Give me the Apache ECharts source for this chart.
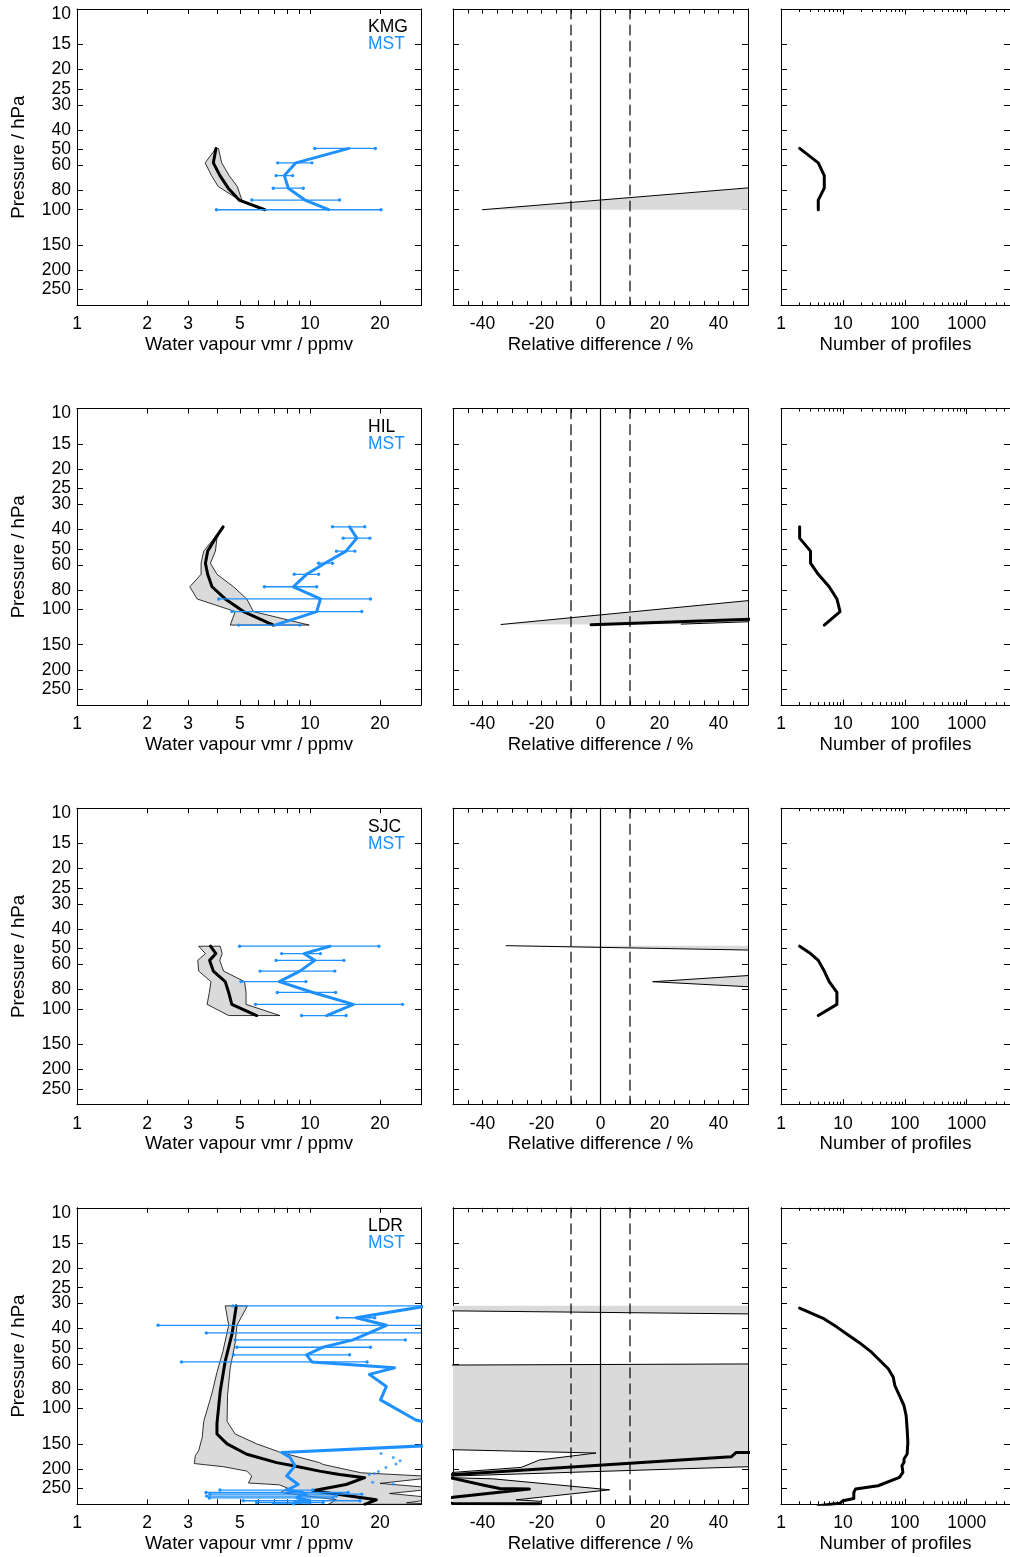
<!DOCTYPE html>
<html>
<head>
<meta charset="utf-8">
<script src="https://cdn.jsdelivr.net/npm/echarts@6/dist/echarts.min.js"></script>
<style>
  html, body { margin: 0; padding: 0; background: #ffffff; }
  #chart { width: 1010px; height: 1557px; }
</style>
</head>
<body>
<div id="chart"></div>
<script>
// ---------- axis ticks and labels ----------
const pressureTicks = [10, 15, 20, 25, 30, 40, 50, 60, 80, 100, 150, 200, 250];
const vmrLabels = [1, 2, 3, 5, 10, 20];
const vmrTicks = [1, 2, 3, 4, 5, 6, 7, 8, 9, 10, 20, 30];
const relLabels = [-40, -20, 0, 20, 40];
const relTicks = [-50, -45, -40, -35, -30, -25, -20, -15, -10, -5, 0, 5, 10, 15, 20, 25, 30, 35, 40, 45, 50];
const countLabels = [1, 10, 100, 1000];
const countMinorTicks = [2, 3, 4, 5, 6, 7, 8, 9, 20, 30, 40, 50, 60, 70, 80, 90,
  200, 300, 400, 500, 600, 700, 800, 900, 2000, 3000, 4000, 5000];
const relRefLines = [-10, 0, 10];

const stations = ['KMG', 'HIL', 'SJC', 'LDR'];
const satName = 'MST';

// ---------- KMG ----------
const kmgP = [49.5, 58.4, 67.6, 78.1, 89.5, 100];
const kmgSonde = [3.95, 3.85, 4.11, 4.46, 4.97, 6.41];
const kmgBandP = [49.5, 58.4, 67.6, 76.6, 89.3];
const kmgBandLo = [3.95, 3.55, 3.78, 4.04, 4.97];
const kmgBandHi = [4.05, 4.18, 4.50, 4.88, 5.10];
const kmgMst = [14.7, 8.71, 7.77, 8.08, 9.52, 12.05];
const kmgMstLo = [10.5, 7.27, 7.16, 6.96, 5.63, 3.97];
const kmgMstHi = [19.1, 10.2, 8.43, 9.36, 13.4, 20.2];
const kmgCount = [2, 4, 5, 5, 4, 4];
const kmgRelBands = [[[-40, 100], [60, 75.7], [60, 100]]];
const kmgRelEdges = [[[-40, 100], [60, 75.7]]];
const kmgRelMean = [];

// ---------- HIL ----------
const hilP = [38.8, 44.2, 51.3, 58.9, 66.9, 77.2, 88.8, 102.6, 119.8];
const hilSonde = [4.24, 3.93, 3.64, 3.56, 3.64, 3.80, 4.33, 5.19, 6.97];
const hilBandLo = [4.24, 3.88, 3.50, 3.41, 3.41, 3.05, 3.28, 4.78, 4.55];
const hilBandHi = [4.24, 3.99, 3.93, 3.74, 3.99, 4.70, 5.36, 5.72, 9.93];
const hilMst = [14.8, 15.9, 14.3, 11.6, 9.68, 8.49, 11.1, 10.7, 7.08];
const hilMstLo = [12.5, 13.9, 13.0, 10.9, 8.57, 6.38, 4.06, 4.63, 4.94];
const hilMstHi = [17.2, 18.1, 15.6, 12.5, 10.9, 10.7, 18.2, 16.7, 9.06];
const hilCount = [2, 2, 3, 3, 4, 6, 8, 9, 5];
const hilRelBands = [[[-33.7, 119], [60, 87.6], [60, 114], [27.4, 118.5]]];
const hilRelEdges = [[[-33.7, 119], [60, 87.6]], [[27.4, 118.5], [60, 114]]];
const hilRelMean = [[-3.2, 119.4], [60, 110.8]];

// ---------- SJC ----------
const sjcP = [48.7, 53.0, 57.3, 64.8, 73.1, 82.8, 94.9, 107.9];
const sjcSonde = [3.74, 3.95, 3.71, 3.85, 4.33, 4.48, 4.62, 5.91];
const sjcBandLo = [3.33, 3.56, 3.30, 3.33, 3.76, 3.70, 3.62, 4.48];
const sjcBandHi = [4.12, 4.20, 4.10, 4.26, 5.24, 5.32, 5.32, 7.43];
const sjcMst = [12.2, 9.43, 10.5, 9.06, 7.39, 10.3, 15.4, 11.8];
const sjcMstLo = [4.99, 7.57, 7.16, 6.11, 5.06, 7.25, 5.84, 9.21];
const sjcMstHi = [19.8, 11.1, 14.0, 12.8, 9.61, 12.9, 25.0, 14.3];
const sjcCount = [2, 3, 4, 5, 6, 8, 8, 4];
const sjcRelBands = [
  [[-32, 48.4], [60, 51.2], [60, 48.4]],
  [[17.7, 73.2], [60, 66.7], [60, 78.9]]
];
const sjcRelEdges = [[[-32, 48.4], [60, 51.2]], [[60, 66.7], [17.7, 73.2], [60, 78.9]]];
const sjcRelMean = [];

// ---------- LDR ----------
const ldrSondeP = [30.8, 42.5, 58, 82.2, 119, 134, 150, 169, 186, 193, 205, 213, 221, 239, 257, 285, 300];
const ldrSonde = [4.83, 4.63, 4.33, 4.12, 3.99, 3.99, 4.41, 5.36, 7.20, 8.49, 11.0, 13.4, 17.2, 14.3, 10.3, 19.3, 17.2];
const ldrBandLoP = [30.8, 38.5, 52, 66, 83.7, 116, 139, 162, 172, 188, 195, 205, 217, 235, 240, 249, 262, 285, 300];
const ldrBandLo = [4.33, 4.48, 4.23, 3.99, 3.80, 3.50, 3.45, 3.33, 3.22, 3.19, 4.26, 5.36, 5.63, 5.45, 7.4, 8.0, 7.5, 13.0, 12.0];
const ldrBandHiP = [30.8, 38.5, 47, 62.7, 86, 116, 134, 150, 165, 186, 190, 209, 219, 236, 250, 265, 280, 295, 300];
const ldrBandHi = [5.39, 4.86, 4.78, 4.55, 4.43, 4.41, 4.78, 5.91, 7.43, 11.0, 11.4, 16.6, 36, 20, 36, 22, 36, 26, 36];
const ldrMstP = [30.8, 35.3, 38.5, 42.0, 45.5, 49.5, 54.0, 58.6, 62.7, 67.6, 77.6, 90.6, 114, 125, 148,
  165.5, 175.5, 193, 217, 239, 254.7, 262, 267, 273, 279, 288, 294, 299];
const ldrMst = [32, 15.8, 21.3, 18.0, 15.3, 11.4, 9.68, 10.2, 23.1, 18.0, 21.3, 20.1, 28.5, 40, 60,
  7.57, 8.22, 8.63, 7.95, 8.91, 7.95, 9.3, 9.6, 9.0, 8.8, 10.0, 8.6, 8.5];
const ldrErrP = [30.8, 35.3, 38.5, 42.0, 45.5, 49.5, 54.0, 58.6, 254.7, 262, 267, 273, 279, 288, 294, 299];
const ldrErrLo = [4.67, 13.1, 2.23, 3.59, 4.78, 4.86, 4.70, 2.81, 4.11, 3.58, 3.72, 3.60, 3.70, 5.17, 5.90, 6.97];
const ldrErrHi = [40, 19.0, 40, 40, 25.7, 18.2, 14.8, 17.6, 10.3, 14.6, 16.7, 13.0, 12.6, 16.4, 11.4, 10.0];
const ldrDotP = [167.3, 175.2, 182, 189, 196.5, 205.8, 210.6, 213, 233, 238];
const ldrDot = [20.2, 22.8, 24.4, 23.4, 21.2, 19.7, 18.9, 18.0, 18.6, 22.8];
const ldrCountP = [31.6, 35.8, 39.3, 42.9, 46.7, 52.4, 63.4, 69.8, 76.8, 86.2, 96.8, 108.5, 126.4, 147.4,
  168.4, 178.3, 185.4, 192.6, 208, 220.4, 242.5, 252, 261.8, 280.5, 288, 296, 305];
const ldrCount = [2, 5, 8, 12, 18, 29, 54, 65, 69, 82, 97, 105, 109, 112,
  109, 97, 97, 90, 93, 82, 37, 16, 15, 15, 10, 9, 4];
const ldrRelBands = [
  [[-60, 30.8], [60, 30.8], [60, 33.9], [-60, 32.5]],
  [[-60, 60.8], [60, 59.9], [60, 192.9], [-60, 219.3], [-36.5, 224], [3.1, 254], [-28.6, 285],
   [-20.1, 290], [-20.1, 300], [-60, 300], [-60, 213.3], [-26.9, 196.5], [-20.7, 180.5],
   [-1.5, 166.6], [-60, 159.1]]
];
const ldrRelEdges = [
  [[-60, 32.5], [60, 33.9]],
  [[-60, 60.8], [60, 59.9]],
  [[-60, 159.1], [-1.5, 166.6], [-20.7, 180.5], [-26.9, 196.5], [-60, 213.3]],
  [[60, 192.9], [-60, 219.3]],
  [[-60, 219.3], [-36.5, 224], [3.1, 254], [-28.6, 285], [-20.1, 290], [-20.1, 300]]
];
const ldrRelMean = [[60, 165.5], [46, 165.5], [44.3, 174], [10, 187.5], [-56, 216.3], [-50, 222.8],
  [-39.9, 240.5], [-34.2, 250], [-24.1, 252], [-50, 277], [-56, 287], [-50, 297], [-20.7, 298]];

// ---------- assemble per-station records ----------
const zip = (xs, ps) => xs.map((x, i) => [x, ps[i]]);
const rows = [
  { name: stations[0], sonde: zip(kmgSonde, kmgP),
    band: zip(kmgBandLo, kmgBandP).concat(zip(kmgBandHi, kmgBandP).reverse()),
    mst: zip(kmgMst, kmgP), err: kmgP.map((p, i) => [kmgMstLo[i], kmgMstHi[i], p]), dots: [],
    relBands: kmgRelBands, relEdges: kmgRelEdges, relMean: kmgRelMean, count: zip(kmgCount, kmgP) },
  { name: stations[1], sonde: zip(hilSonde, hilP),
    band: zip(hilBandLo, hilP).concat(zip(hilBandHi, hilP).reverse()),
    mst: zip(hilMst, hilP), err: hilP.map((p, i) => [hilMstLo[i], hilMstHi[i], p]), dots: [],
    relBands: hilRelBands, relEdges: hilRelEdges, relMean: hilRelMean, count: zip(hilCount, hilP) },
  { name: stations[2], sonde: zip(sjcSonde, sjcP),
    band: zip(sjcBandLo, sjcP).concat(zip(sjcBandHi, sjcP).reverse()),
    mst: zip(sjcMst, sjcP), err: sjcP.map((p, i) => [sjcMstLo[i], sjcMstHi[i], p]), dots: [],
    relBands: sjcRelBands, relEdges: sjcRelEdges, relMean: sjcRelMean, count: zip(sjcCount, sjcP) },
  { name: stations[3], sonde: zip(ldrSonde, ldrSondeP),
    band: zip(ldrBandLo, ldrBandLoP).concat(zip(ldrBandHi, ldrBandHiP).reverse()),
    mst: zip(ldrMst, ldrMstP), err: ldrErrP.map((p, i) => [ldrErrLo[i], ldrErrHi[i], p]),
    dots: zip(ldrDot, ldrDotP),
    relBands: ldrRelBands, relEdges: ldrRelEdges, relMean: ldrRelMean, count: zip(ldrCount, ldrCountP) }
];

// ---------- layout & style ----------
const FONT = '"Liberation Sans", Arial, Helvetica, sans-serif';
const FS = 17.5;      // tick labels and station names
const FS_NAME = 18.6; // axis titles
const BLUE = '#1e90ff';
const GRAY = '#dadada';
const ROW_TOP = [9, 408.6, 808.2, 1207.8];
const PANEL_H = 296.5;
const COLS = [
  { left: 77, width: 344 },
  { left: 453, width: 295 },
  { left: 781, width: 233 }
];
const XCFG = [
  { type: 'log', min: 1, max: 30, ticks: vmrTicks, labels: vmrLabels, len: 5, name: 'Water vapour vmr / ppmv' },
  { type: 'value', min: -50, max: 50, ticks: relTicks, labels: relLabels, len: 4.5, name: 'Relative difference / %' },
  { type: 'log', min: 1, max: 5000, ticks: countMinorTicks, labels: countLabels, len: 3, name: 'Number of profiles',
    major: countLabels, majorLen: 5.5 }
];

const grids = [], xAxes = [], yAxes = [], series = [], graphics = [];
const textStyle = { color: '#000', fontFamily: FONT, fontSize: FS };
const nameStyle = { color: '#000', fontFamily: FONT, fontSize: FS_NAME };

function makeX(g, cfg, position, withLabels, ticks, len) {
  const ax = {
    gridIndex: g, type: cfg.type, min: cfg.min, max: cfg.max, position: position,
    splitLine: { show: false },
    axisLine: { show: true, onZero: false, lineStyle: { color: '#000', width: 1 } },
    axisTick: { show: true, inside: true, length: len, customValues: ticks, lineStyle: { color: '#000', width: 1 } },
    axisLabel: { show: false }
  };
  if (cfg.type === 'log') ax.logBase = 10;
  if (withLabels) {
    ax.axisLabel = Object.assign({ show: true, customValues: cfg.labels, margin: 10,
      formatter: v => String(Math.round(v)) }, textStyle);
    ax.name = cfg.name;
    ax.nameLocation = 'middle';
    ax.nameGap = 30;
    ax.nameTextStyle = Object.assign({}, nameStyle);
  }
  return ax;
}

function makeY(g, position, withLabels) {
  const ax = {
    gridIndex: g, type: 'log', logBase: 10, min: 10, max: 300, inverse: true, position: position,
    splitLine: { show: false },
    axisLine: { show: true, onZero: false, lineStyle: { color: '#000', width: 1 } },
    axisTick: { show: true, inside: true, length: 6, customValues: pressureTicks, lineStyle: { color: '#000', width: 1 } },
    axisLabel: { show: false }
  };
  if (withLabels) {
    ax.axisLabel = Object.assign({
      show: true, customValues: pressureTicks, margin: 6,
      formatter: v => (Math.round(v) === 10 ? '{first|10}' : String(Math.round(v))),
      rich: { first: Object.assign({ padding: [10, 0, 0, 0] }, textStyle) }
    }, textStyle);
    ax.name = 'Pressure / hPa';
    ax.nameLocation = 'middle';
    ax.nameGap = 49;
    ax.nameTextStyle = Object.assign({}, nameStyle);
  }
  return ax;
}

function polygonSeries(xi, yi, pts, stroke, z) {
  return {
    type: 'custom', xAxisIndex: xi, yAxisIndex: yi, clip: true, silent: true, z: z,
    data: pts,
    renderItem: (params, api) => {
      if (params.dataIndex !== 0) return null;
      return {
        type: 'polygon',
        shape: { points: pts.map(d => api.coord(d)) },
        style: { fill: GRAY, stroke: stroke ? '#000' : 'none', lineWidth: 0.8 }
      };
    }
  };
}

function lineSeries(xi, yi, data, color, width, z, dash) {
  return {
    type: 'line', xAxisIndex: xi, yAxisIndex: yi, data: data, symbol: 'none', silent: true, z: z,
    clip: true, lineStyle: { color: color, width: width, type: dash || 'solid', cap: 'round', join: 'round' }
  };
}

rows.forEach((row, r) => {
  for (let c = 0; c < 3; c++) {
    const g = grids.length;
    grids.push({ left: COLS[c].left, top: ROW_TOP[r], width: COLS[c].width, height: PANEL_H });
    const cfg = XCFG[c];
    const xi = xAxes.length;
    xAxes.push(makeX(g, cfg, 'bottom', true, cfg.ticks, cfg.len));
    xAxes.push(makeX(g, cfg, 'top', false, cfg.ticks, cfg.len));
    if (cfg.major) {
      const bx = makeX(g, cfg, 'bottom', false, cfg.major, cfg.majorLen);
      bx.axisLine.show = false;
      const tx = makeX(g, cfg, 'top', false, cfg.major, cfg.majorLen);
      tx.axisLine.show = false;
      xAxes.push(bx, tx);
    }
    const yi = yAxes.length;
    yAxes.push(makeY(g, 'left', c === 0));
    yAxes.push(makeY(g, 'right', false));

    if (c === 0) {
      // sonde spread, sonde mean, satellite profile with its error bars
      series.push(polygonSeries(xi, yi, row.band, true, 1));
      series.push(lineSeries(xi, yi, row.sonde, '#000', 3, 2));
      series.push({
        type: 'custom', xAxisIndex: xi, yAxisIndex: yi, clip: true, silent: true, z: 3,
        data: row.err, encode: { x: [0, 1], y: 2 },
        renderItem: (params, api) => {
          const a = api.coord([api.value(0), api.value(2)]);
          const b = api.coord([api.value(1), api.value(2)]);
          return {
            type: 'group', children: [
              { type: 'line', shape: { x1: a[0], y1: a[1], x2: b[0], y2: b[1] }, style: { stroke: BLUE, lineWidth: 1.3 } },
              { type: 'circle', shape: { cx: a[0], cy: a[1], r: 1.7 }, style: { fill: BLUE } },
              { type: 'circle', shape: { cx: b[0], cy: b[1], r: 1.7 }, style: { fill: BLUE } }
            ]
          };
        }
      });
      if (row.dots.length) {
        series.push({
          type: 'scatter', xAxisIndex: xi, yAxisIndex: yi, data: row.dots, symbol: 'circle',
          symbolSize: 3, silent: true, z: 3, itemStyle: { color: BLUE }
        });
      }
      series.push(lineSeries(xi, yi, row.mst, BLUE, 3, 4));
      graphics.push({ type: 'text', x: 368, y: ROW_TOP[r] + 18.5,
        style: { text: row.name, fill: '#000', font: FS + 'px ' + FONT, verticalAlign: 'middle' } });
      graphics.push({ type: 'text', x: 368, y: ROW_TOP[r] + 35.5,
        style: { text: satName, fill: BLUE, font: FS + 'px ' + FONT, verticalAlign: 'middle' } });
    } else if (c === 1) {
      row.relBands.forEach(b => series.push(polygonSeries(xi, yi, b, false, 1)));
      relRefLines.forEach(x => {
        series.push(lineSeries(xi, yi, [[x, 10], [x, 300]], '#000', 1.2, 2, x === 0 ? 'solid' : [10, 6]));
      });
      row.relEdges.forEach(e => series.push(lineSeries(xi, yi, e, '#000', 1, 3)));
      if (row.relMean.length) series.push(lineSeries(xi, yi, row.relMean, '#000', 3, 4));
    } else {
      series.push(lineSeries(xi, yi, row.count, '#000', 3, 2));
    }
  }
});

const chart = echarts.init(document.getElementById('chart'), null, { renderer: 'canvas' });
chart.setOption({
  animation: false,
  backgroundColor: '#ffffff',
  textStyle: { fontFamily: FONT },
  grid: grids,
  xAxis: xAxes,
  yAxis: yAxes,
  series: series,
  graphic: graphics
});
</script>
</body>
</html>
